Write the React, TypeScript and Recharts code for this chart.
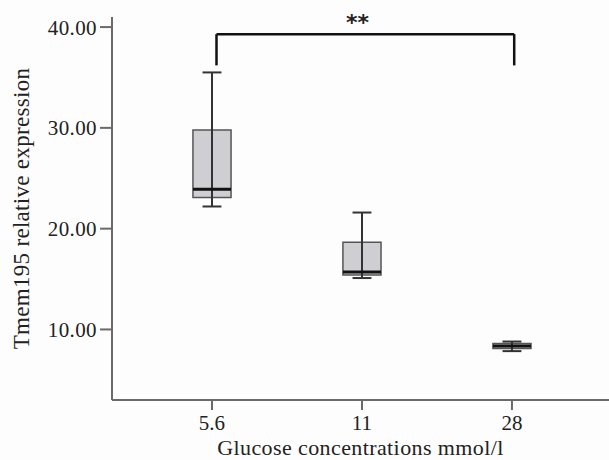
import React from 'react';
import {
  ComposedChart,
  XAxis,
  YAxis,
  Scatter,
  ReferenceArea,
  ReferenceLine,
  ReferenceDot,
} from 'recharts';

const categories = ['5.6', '11', '28'];
const whiskerLow = [22.2, 15.1, 7.85];
const q1 = [23.1, 15.4, 8.1];
const median = [23.9, 15.7, 8.35];
const q3 = [29.8, 18.65, 8.6];
const whiskerHigh = [35.5, 21.6, 8.8];
const yTicks = [10, 20, 30, 40];
const xTicks = [0, 1, 2];

const bracketX = [0.03, 2.015];
const bracketY = [36.2, 39.3];
const sigLabel = '**';

const BOX_HALF = 0.127;
const CAP_HALF = 0.063;

const medianData = categories.map((c, i) => ({ x: i, y: median[i], name: c }));

const FONT = '"Liberation Serif", "Times New Roman", serif';
const AXIS_COLOR = '#6a6a6a';
const TEXT_COLOR = '#222';

const MedianShape = (props: any) => {
  const { cx, cy } = props;
  if (cx == null || cy == null) return null;
  return <line x1={cx - 19} x2={cx + 19} y1={cy} y2={cy} stroke="#111" strokeWidth={3} />;
};

export default function App() {
  return (
    <div style={{ position: 'absolute', left: 0, top: 0, width: 609, height: 460, background: '#fdfdfd' }}>
      <ComposedChart
        width={609}
        height={460}
        data={medianData}
        margin={{ top: 17, right: 0, bottom: 0, left: 0 }}
      >
        <XAxis
          dataKey="x"
          type="number"
          domain={[-0.6667, 2.647]}
          ticks={xTicks}
          allowDataOverflow
          tickFormatter={(v: number) => categories[v] ?? ''}
          height={60}
          tickSize={10}
          tickMargin={5}
          stroke={AXIS_COLOR}
          strokeWidth={2}
          tick={{ fill: TEXT_COLOR, fontSize: 21, fontFamily: FONT }}
          label={{
            value: 'Glucose concentrations mmol/l',
            position: 'insideBottom',
            offset: 5,
            style: { fill: TEXT_COLOR, fontSize: 22, letterSpacing: 0.4, fontFamily: FONT },
          }}
        />
        <YAxis
          type="number"
          domain={[3, 41]}
          ticks={yTicks}
          allowDataOverflow
          width={112}
          tickSize={12}
          tickMargin={3}
          stroke={AXIS_COLOR}
          strokeWidth={2}
          tickFormatter={(v: number) => v.toFixed(2)}
          tick={{ fill: TEXT_COLOR, fontSize: 21, fontFamily: FONT, letterSpacing: 0.4 }}
          label={{
            value: 'Tmem195 relative expression',
            angle: -90,
            position: 'insideLeft',
            offset: 21,
            style: { fill: TEXT_COLOR, fontSize: 23, letterSpacing: 0.3, fontFamily: FONT, textAnchor: 'middle' },
          }}
        />
        {categories.map((c, i) => (
          <ReferenceLine
            key={'wl' + c}
            segment={[
              { x: i, y: whiskerLow[i] },
              { x: i, y: whiskerHigh[i] },
            ]}
            stroke="#333"
            strokeWidth={2}
          />
        ))}
        {categories.map((c, i) => (
          <ReferenceLine
            key={'ct' + c}
            segment={[
              { x: i - CAP_HALF, y: whiskerHigh[i] },
              { x: i + CAP_HALF, y: whiskerHigh[i] },
            ]}
            stroke="#333"
            strokeWidth={2}
          />
        ))}
        {categories.map((c, i) => (
          <ReferenceLine
            key={'cb' + c}
            segment={[
              { x: i - CAP_HALF, y: whiskerLow[i] },
              { x: i + CAP_HALF, y: whiskerLow[i] },
            ]}
            stroke="#333"
            strokeWidth={2}
          />
        ))}
        {categories.map((c, i) => (
          <ReferenceArea
            key={'box' + c}
            x1={i - BOX_HALF}
            x2={i + BOX_HALF}
            y1={q1[i]}
            y2={q3[i]}
            fill="#cfcfd3"
            fillOpacity={1}
            stroke="#555"
            strokeWidth={1.5}
          />
        ))}
        <Scatter dataKey="y" isAnimationActive={false} shape={MedianShape} />
        <ReferenceLine
          segment={[
            { x: bracketX[0], y: bracketY[0] },
            { x: bracketX[0], y: bracketY[1] },
          ]}
          stroke="#111"
          strokeWidth={2.5}
        />
        <ReferenceLine
          segment={[
            { x: bracketX[0], y: bracketY[1] },
            { x: bracketX[1], y: bracketY[1] },
          ]}
          stroke="#111"
          strokeWidth={2.5}
        />
        <ReferenceLine
          segment={[
            { x: bracketX[1], y: bracketY[1] },
            { x: bracketX[1], y: bracketY[0] },
          ]}
          stroke="#111"
          strokeWidth={2.5}
        />
        <ReferenceDot
          x={0.97}
          y={bracketY[1]}
          r={0}
          fill="none"
          stroke="none"
          label={{
            value: sigLabel,
            position: 'top',
            offset: 4,
            style: { fill: '#222', fontSize: 22, fontWeight: 'bold', fontFamily: '"DejaVu Sans", sans-serif' },
          }}
        />
      </ComposedChart>
    </div>
  );
}
